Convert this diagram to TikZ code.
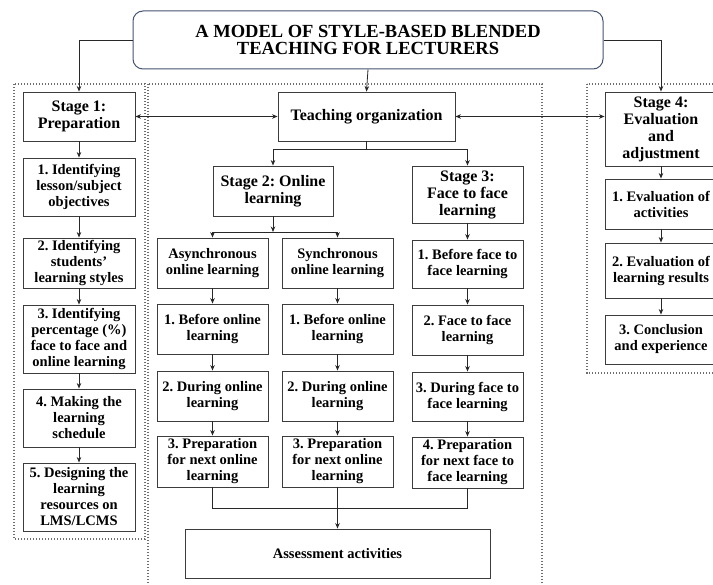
\documentclass[tikz,border=0pt]{standalone}
\usepackage{fontspec}
\setmainfont{Liberation Serif}
\usetikzlibrary{arrows.meta}
\definecolor{boxc}{RGB}{60,60,60}
\definecolor{titlec}{RGB}{68,84,116}
\definecolor{dotc}{RGB}{110,110,110}
\definecolor{linec}{RGB}{40,40,40}
\frenchspacing
\begin{document}
\begin{tikzpicture}[x=1pt,y=-1pt,
  box/.style={draw=boxc, line width=0.9pt, align=center, inner sep=0pt, minimum width=111pt,
    font=\bfseries\fontsize{14.5}{16}\selectfont},
  stagebox/.style={box, font=\bfseries\fontsize{16}{17}\selectfont},
  titlebox/.style={draw=titlec, line width=1pt, rounded corners=10pt, align=center, inner sep=0pt,
    minimum width=470pt, minimum height=58pt, font=\bfseries\fontsize{18.5}{17.5}\selectfont},
  arr/.style={draw=linec, line width=0.8pt, -{Stealth[length=5.5pt,width=4.5pt]}},
  darr/.style={draw=linec, line width=0.8pt, {Stealth[length=5.5pt,width=4.5pt]}-{Stealth[length=5.5pt,width=4.5pt]}},
  conn/.style={draw=linec, line width=0.8pt},
  dotbox/.style={draw=dotc, line width=1.1pt, dash pattern=on 1.1pt off 1.9pt}
]
\useasboundingbox (0,0) rectangle (713,585);
\clip (0,0) rectangle (713,585);
\fill[white] (0,0) rectangle (713,585);

% dotted frames
\draw[dotbox] (14,84) rectangle (145,539);
\draw[dotbox] (148,84) rectangle (542,600);
\draw[dotbox] (587,84) rectangle (730,373);

% title
\node[titlebox] (title) at (368,40) {A MODEL OF STYLE-BASED BLENDED\\TEACHING FOR LECTURERS};

% stage 1 column
\node[stagebox, minimum width=112pt, minimum height=49pt] (s1) at (79,116.5) {Stage 1:\\Preparation};
\node[box, minimum width=112pt, minimum height=58pt] (p1) at (79,187) {1. Identifying\\lesson/subject\\objectives};
\node[box, minimum width=112pt, minimum height=50pt] (p2) at (79,263) {2. Identifying\\students'\\learning styles};
\node[box, minimum width=112pt, minimum height=68pt] (p3) at (79,339) {3. Identifying\\percentage (\%)\\face to face and\\online learning};
\node[box, minimum width=112pt, minimum height=58pt] (p4) at (79,418) {4. Making the\\learning\\schedule};
\node[box, minimum width=112pt, minimum height=68pt] (p5) at (79,497) {5. Designing the\\learning\\resources on\\LMS/LCMS};

% middle
\node[stagebox, minimum width=177pt, minimum height=49pt] (to) at (366.5,116.5) {Teaching organization};
\node[stagebox, minimum width=120pt, minimum height=50pt] (s2) at (273,191) {Stage 2: Online\\learning};
\node[stagebox, minimum width=111pt, minimum height=57pt] (s3) at (467.5,194.5) {Stage 3:\\Face to face\\learning};

\node[box, minimum height=50pt] (a0) at (212.5,263) {Asynchronous\\online learning};
\node[box, minimum height=50pt] (b0) at (337.5,263) {Synchronous\\online learning};
\node[box, minimum height=50pt] (a1) at (212.5,329) {1. Before online\\learning};
\node[box, minimum height=50pt] (b1) at (337.5,329) {1. Before online\\learning};
\node[box, minimum height=50pt] (a2) at (212.5,396) {2. During online\\learning};
\node[box, minimum height=50pt] (b2) at (337.5,396) {2. During online\\learning};
\node[box, minimum height=51pt] (a3) at (212.5,461.5) {3. Preparation\\for next online\\learning};
\node[box, minimum height=51pt] (b3) at (337.5,461.5) {3. Preparation\\for next online\\learning};

\node[box, minimum height=48pt] (c1) at (467.5,264) {1. Before face to\\face learning};
\node[box, minimum height=50pt] (c2) at (467.5,330) {2. Face to face\\learning};
\node[box, minimum height=49pt] (c3) at (467.5,396.5) {3. During face to\\face learning};
\node[box, minimum height=51pt] (c4) at (467.5,462.5) {4. Preparation\\for next face to\\face learning};

\node[box, minimum width=305pt, minimum height=49pt] (as) at (337.5,553.5) {Assessment activities};

% stage 4 column
\node[stagebox, minimum width=112pt, minimum height=74pt] (s4) at (661,129) {Stage 4:\\Evaluation\\and\\adjustment};
\node[box, minimum width=112pt, minimum height=50pt] (e1) at (661,204) {1. Evaluation of\\activities};
\node[box, minimum width=112pt, minimum height=55pt] (e2) at (661,270.5) {2. Evaluation of\\learning results};
\node[box, minimum width=112pt, minimum height=49pt] (e3) at (661,339.5) {3. Conclusion\\and experience};

% connectors from title
\draw[arr] (title.west) -| (s1.north);
\draw[arr] (title.east) -| (s4.north);
\draw[arr] (title.south) -- (to.north);

% teaching organization links
\draw[darr] (s1.east) -- (to.west);
\draw[darr] (to.east) -- (to.east -| s4.west);
\coordinate (j1) at (366.5,149);
\draw[conn] (to.south) -- (j1);
\draw[arr] (j1) -| (s2.north);
\draw[arr] (j1) -| (s3.north);

% stage 2 split
\coordinate (j2) at (273,232);
\draw[arr] (s2.south) -- (j2);
\draw[arr] (j2) -| (a0.north);
\draw[arr] (j2) -| (b0.north);

% chains
\draw[arr] (s1.south) -- (p1.north);
\draw[arr] (p1.south) -- (p2.north);
\draw[arr] (p2.south) -- (p3.north);
\draw[arr] (p3.south) -- (p4.north);
\draw[arr] (p4.south) -- (p5.north);

\draw[arr] (a0.south) -- (a1.north);
\draw[arr] (a1.south) -- (a2.north);
\draw[arr] (a2.south) -- (a3.north);
\draw[arr] (b0.south) -- (b1.north);
\draw[arr] (b1.south) -- (b2.north);
\draw[arr] (b2.south) -- (b3.north);

\draw[arr] (s3.south) -- (c1.north);
\draw[arr] (c1.south) -- (c2.north);
\draw[arr] (c2.south) -- (c3.north);
\draw[arr] (c3.south) -- (c4.north);

\draw[arr] (s4.south) -- (e1.north);
\draw[arr] (e1.south) -- (e2.north);
\draw[arr] (e2.south) -- (e3.north);

% to assessment
\coordinate (j3) at (337.5,508);
\draw[conn] (a3.south) |- (j3);
\draw[conn] (c4.south) |- (j3);
\draw[arr] (b3.south) -- (as.north);
\end{tikzpicture}
\end{document}
